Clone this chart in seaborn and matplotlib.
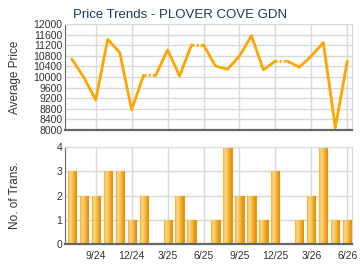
import numpy as np
import pandas as pd
import seaborn as sns
from matplotlib import pyplot as plt
from matplotlib.colors import LinearSegmentedColormap

# monthly data, 7/24 .. 6/26
months = ["7/24", "8/24", "9/24", "10/24", "11/24", "12/24",
          "1/25", "2/25", "3/25", "4/25", "5/25", "6/25",
          "7/25", "8/25", "9/25", "10/25", "11/25", "12/25",
          "1/26", "2/26", "3/26", "4/26", "5/26", "6/26"]
avg_price = [10680, 9990, 9130, 11420, 10930, 8760,
             10060, None, 11020, 10040, 11210, None,
             10410, 10290, 10790, 11560, 10270, 10600,
             None, 10370, 10790, 11300, 8080, 10600]
num_trans = [3, 2, 2, 3, 3, 1,
             2, 0, 1, 2, 1, 0,
             1, 4, 2, 2, 1, 3,
             0, 1, 2, 4, 1, 1]
tick_months = ["9/24", "12/24", "3/25", "6/25", "9/25", "12/25", "3/26", "6/26"]

LINE = "#FFA500"
BAR = "#F4B63A"
BAR_EDGE = "#E39B12"
GRID = "#D9D9D9"
SPINE = "#666666"
TXT = "#333333"

sns.set_style("white")
plt.rcParams["font.family"] = ["Liberation Sans", "DejaVu Sans"]

df = pd.DataFrame({"month": months, "price": avg_price, "trans": num_trans})
df["pos"] = np.arange(len(df))
df["price"] = pd.to_numeric(df["price"])
df["filled"] = df["price"].ffill()

fig = plt.figure(figsize=(3.6, 2.7), dpi=100)
ax1 = fig.add_axes([0.181, 0.519, 0.797, 0.392])
ax2 = fig.add_axes([0.181, 0.096, 0.797, 0.359])

tick_pos = [months.index(m) for m in tick_months]
xlim = (-0.55, 23.4)


def style_axes(ax):
    ax.set_xlim(*xlim)
    ax.set_xticks(tick_pos)
    ax.grid(True, color=GRID, lw=1)
    ax.set_axisbelow(True)
    for s in ["top", "right"]:
        ax.spines[s].set_color(GRID)
    ax.spines["left"].set_color(SPINE)
    ax.spines["bottom"].set_color(SPINE)
    ax.spines["bottom"].set_linewidth(1.6)
    ax.tick_params(axis="both", labelsize=7.5, colors=TXT, length=0, pad=2)
    ax.tick_params(axis="x", length=3, color=SPINE)
    ax.yaxis.set_label_coords(-0.155, 0.5)


# price line: solid runs, dotted where month has no transactions
missing = list(df.index[df["price"].isna()])
starts = [0] + missing
ends = [m - 1 for m in missing] + [len(df) - 1]
for s, e in zip(starts, ends):
    run = df.iloc[s:e + 1]
    sns.lineplot(data=run, x="pos", y="filled", ax=ax1, color=LINE, lw=2,
                 estimator=None, sort=False)
for m in missing:
    seg = df.iloc[m - 1:m + 1]
    sns.lineplot(data=seg, x="pos", y="filled", ax=ax1, color=LINE, lw=2,
                 linestyle=(0, (0.7, 0.8)), estimator=None, sort=False)

style_axes(ax1)
ax1.set_ylim(8000, 12000)
ax1.set_yticks(np.arange(8000, 12001, 400))
ax1.set_xticklabels([])
ax1.tick_params(axis="x", length=0)
ax1.set_xlabel("")
ax1.set_ylabel("Average Price", fontsize=8.5, color=TXT)

sns.barplot(data=df, x="pos", y="trans", ax=ax2, color=BAR, width=0.68,
            edgecolor=BAR_EDGE, linewidth=0.8, saturation=1, native_scale=True)

# horizontal gradient on each bar (light left, darker right)
grad = LinearSegmentedColormap.from_list(
    "bar", ["#F2B035", "#FCD888", "#F7C256", "#EFA21E", "#E08E08"])
g = np.linspace(0, 1, 64).reshape(1, -1)
for p in ax2.patches:
    x0, y0 = p.get_x(), p.get_y()
    w, h = p.get_width(), p.get_height()
    if h <= 0:
        continue
    im = ax2.imshow(g, cmap=grad, aspect="auto", extent=[x0, x0 + w, y0, y0 + h],
                    zorder=p.get_zorder() + 0.1, interpolation="bilinear")
    im.set_clip_path(p)

style_axes(ax2)
ax2.set_ylim(0, 4)
ax2.set_yticks([0, 1, 2, 3, 4])
ax2.set_xticklabels(tick_months)
ax2.set_xlabel("")
ax2.set_ylabel("No. of Trans.", fontsize=8.5, color=TXT)

fig.text(0.5, 0.945, "Price Trends - PLOVER COVE GDN", ha="center",
         va="center", fontsize=9.5, color="#1B3A5C")

fig.savefig("out.png", dpi=100)
